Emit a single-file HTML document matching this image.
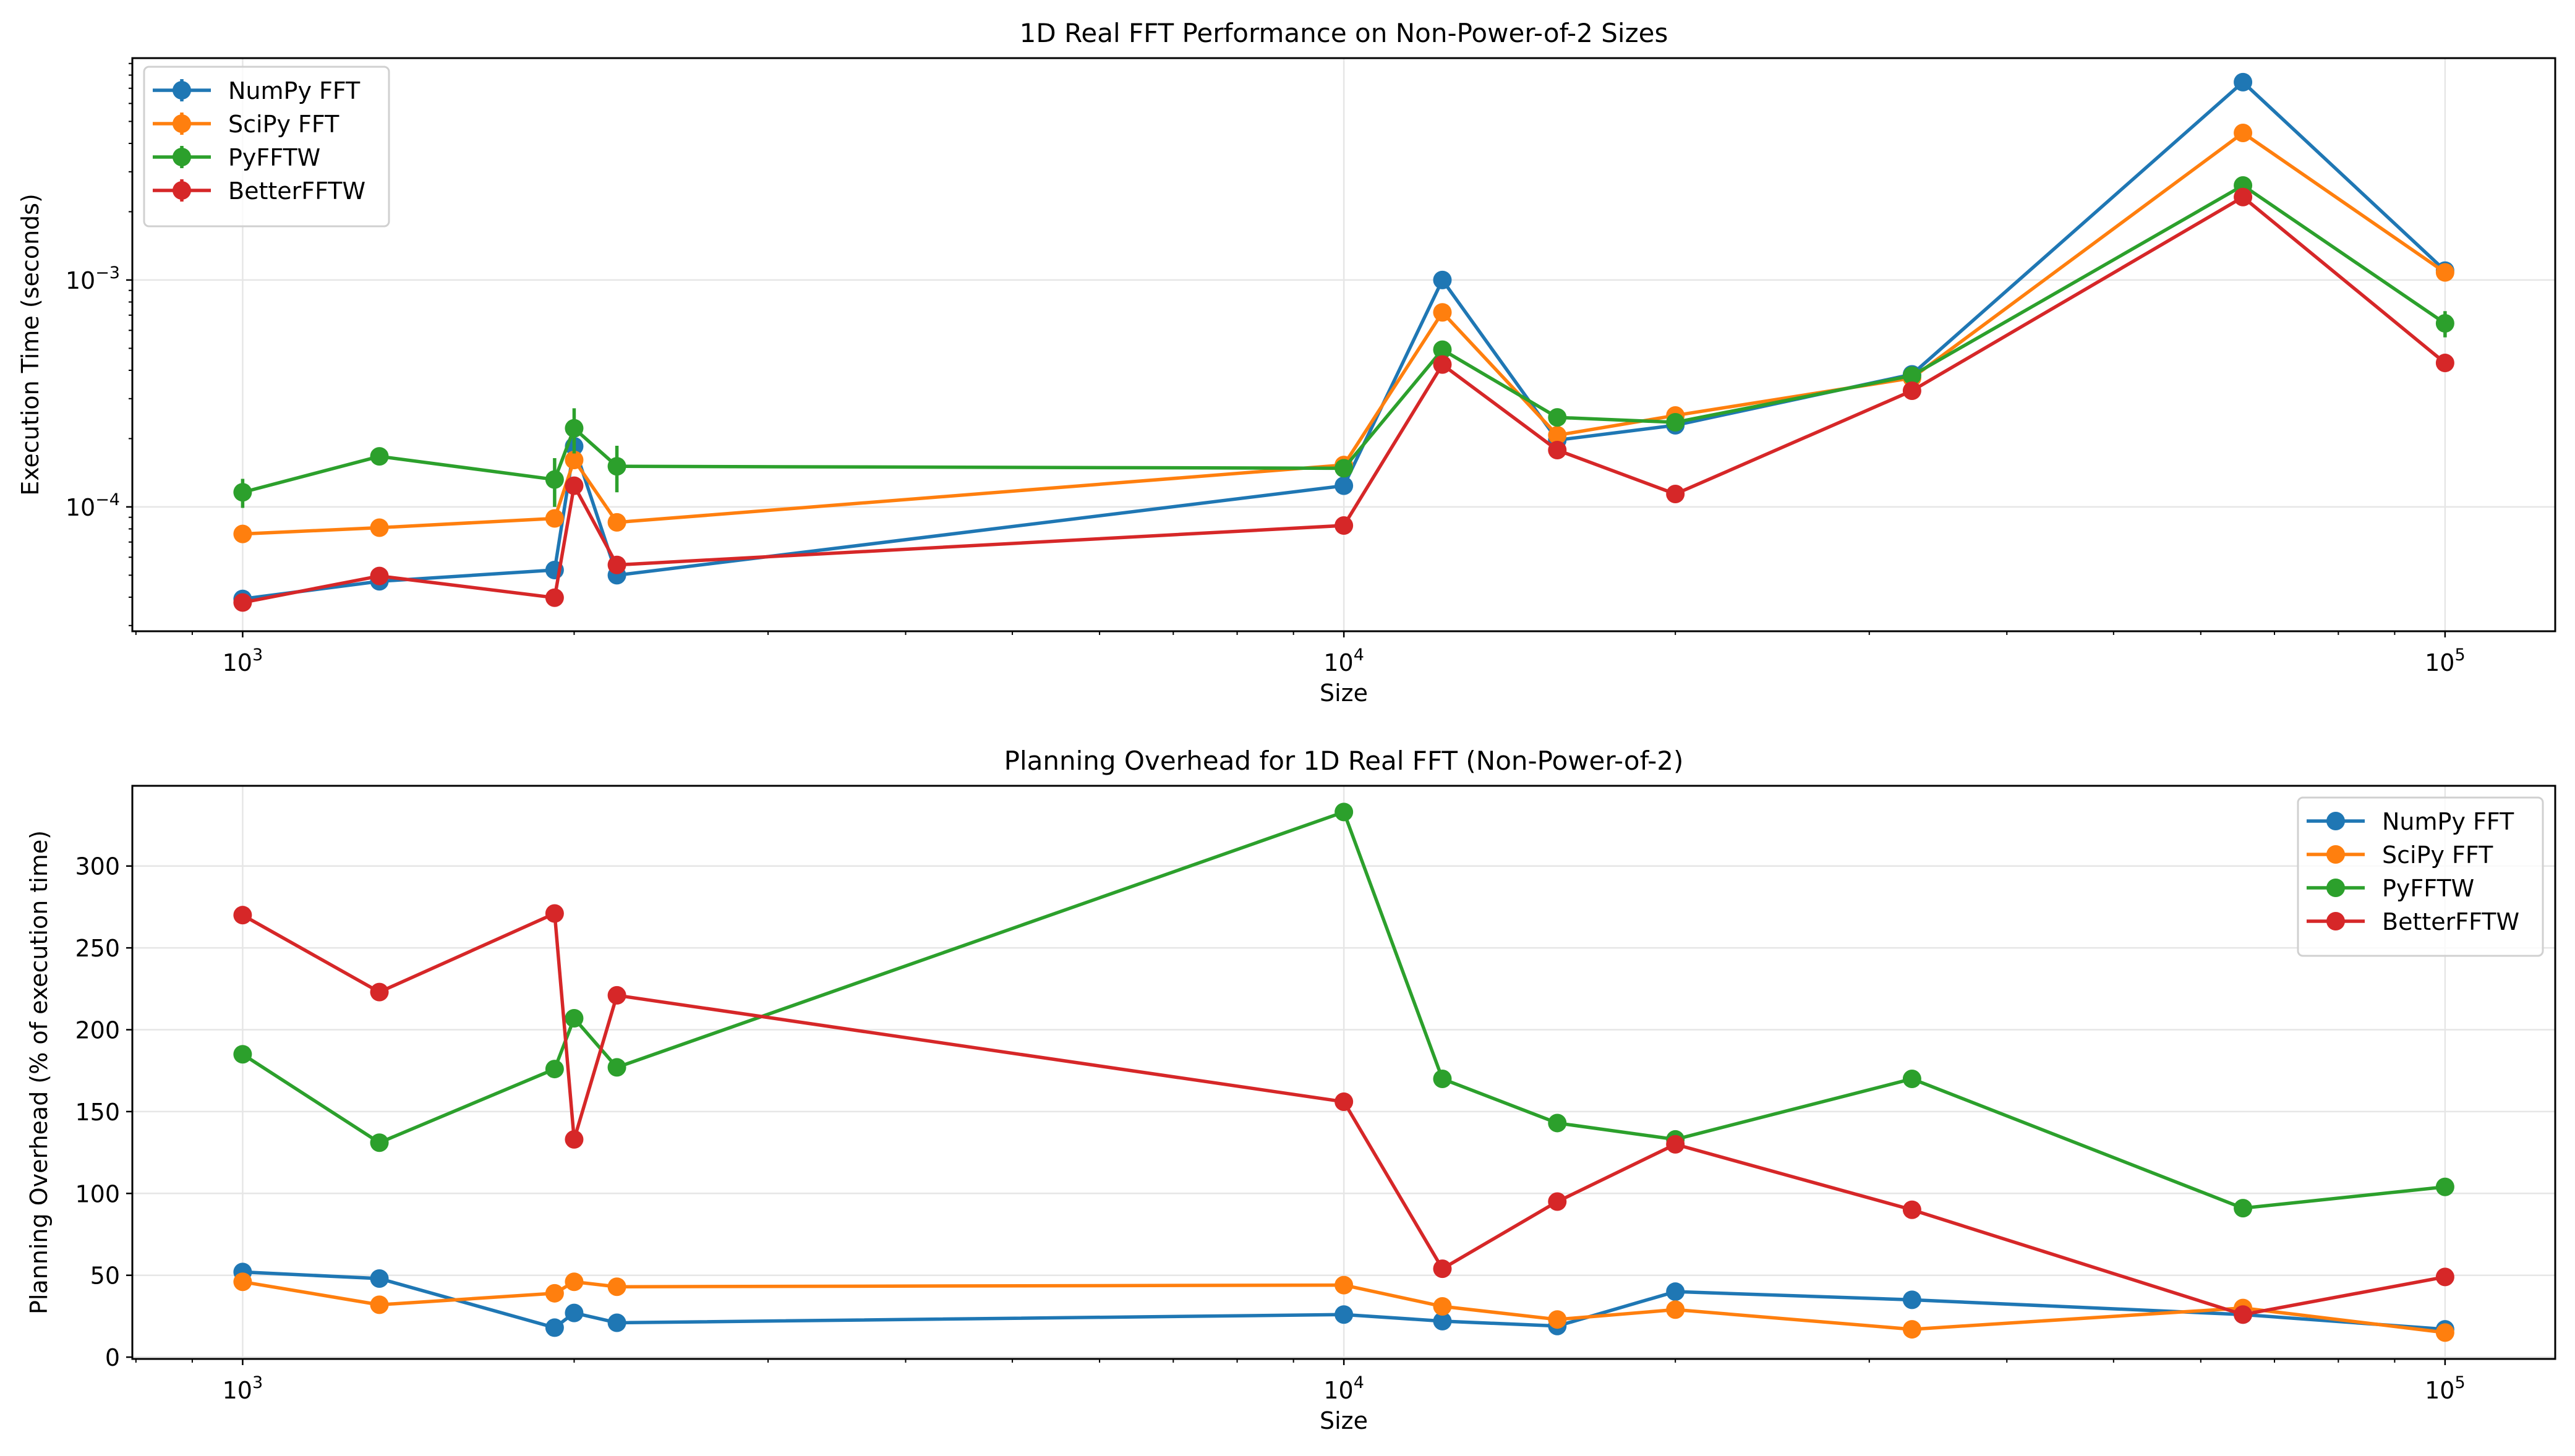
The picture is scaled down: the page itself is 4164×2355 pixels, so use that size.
<!DOCTYPE html>
<html><head><meta charset="utf-8"><style>
html,body{margin:0;padding:0;background:#fff}
svg{display:block;font-family:"DejaVu Sans","Liberation Sans",sans-serif}
</style></head><body>
<svg id="fig" width="4164" height="2355" viewBox="0 0 4164 2355" xmlns="http://www.w3.org/2000/svg"></svg>
<script>
const sizes=[1000,1331,1920,2000,2187,10000,12288,15625,20000,32805,65537,100000];
const seriesNames=["NumPy FFT","SciPy FFT","PyFFTW","BetterFFTW"];
const colors=["#1f77b4","#ff7f0e","#2ca02c","#d62728"];
const timeNumpy=[3.93e-5,4.7e-5,5.27e-5,1.85e-4,5.0e-5,1.24e-4,1.0e-3,1.97e-4,2.29e-4,3.84e-4,7.45e-3,1.1e-3];
const timeScipy=[7.6e-5,8.1e-5,8.9e-5,1.61e-4,8.55e-5,1.53e-4,7.2e-4,2.07e-4,2.53e-4,3.7e-4,4.45e-3,1.08e-3];
const timePyfftw=[1.16e-4,1.67e-4,1.32e-4,2.22e-4,1.51e-4,1.48e-4,4.93e-4,2.48e-4,2.36e-4,3.79e-4,2.61e-3,6.44e-4];
const timeBetter=[3.79e-5,4.96e-5,3.98e-5,1.24e-4,5.55e-5,8.28e-5,4.24e-4,1.78e-4,1.14e-4,3.25e-4,2.32e-3,4.31e-4];
const errNumpy=[0,0,4e-6,0,0,0,0,0,0,0,0,0];
const errScipy=[0,0,0,0,0,0,0,0,0,0,0,0];
const errPyfftw=[1.7e-5,0,3.2e-5,5.0e-5,3.5e-5,0,0,0,0,0,0,8.5e-5];
const errBetter=[0,0,0,0,0,0,0,0,0,0,0,0];
const ovNumpy=[52,48,18,27,21,26,22,19,40,35,26,17];
const ovScipy=[46,32,39,46,43,44,31,23,29,17,30,15];
const ovPyfftw=[185,131,176,207,177,333,170,143,133,170,91,104];
const ovBetter=[270,223,271,133,221,156,54,95,130,90,26,49];
const overheadTicks=[0,50,100,150,200,250,300];
const timeDecades=[-4,-3];
const xDecades=[3,4,5];

const svg=document.getElementById('fig');
const NS="http://www.w3.org/2000/svg";
function mk(tag,attrs,parent){const e=document.createElementNS(NS,tag);for(const k in attrs)e.setAttribute(k,attrs[k]);(parent||svg).appendChild(e);return e;}
const L=214,R=4132;
const xmin=Math.log10(794),xmax=Math.log10(125900);
function X(v){return L+(Math.log10(v)-xmin)/(xmax-xmin)*(R-L);}
const FS=38;

function axesBox(name){
  const g=mk('g',{});return g;
}
function xAxis(g,top,bot){
  for(const d of xDecades){const px=X(Math.pow(10,d));
    mk('line',{x1:px,x2:px,y1:top,y2:bot,stroke:'#e6e6e6','stroke-width':2.5},g);
  }
  for(let d=2;d<=5;d++)for(let m=1;m<10;m++){const v=m*Math.pow(10,d);const px=X(v);if(px<L||px>R)continue;
    const major=m===1;mk('line',{x1:px,x2:px,y1:bot,y2:bot+(major?10:6),stroke:'#000','stroke-width':major?2.5:2},g);
    if(major){const t=mk('text',{x:px,y:bot+64,'font-size':FS,'text-anchor':'middle'},g);t.textContent='10';
      const s=mk('tspan',{dy:-17,'font-size':27},t);s.textContent=String(d);}
  }
  const xl=mk('text',{x:(L+R)/2,y:bot+113,'font-size':FS,'text-anchor':'middle'},g);xl.textContent='Size';
  
}
function drawSeries(g,xs,ys,Yf,color,errs,name){
  const sg=mk('g',{},g);
  if(errs){xs.forEach((x,i)=>{if(errs[i]>0){mk('line',{x1:X(x),x2:X(x),y1:Yf(ys[i]+errs[i]),y2:Yf(Math.max(ys[i]-errs[i],1e-9)),stroke:color,'stroke-width':5.5},sg);}});}
  mk('polyline',{points:xs.map((x,i)=>X(x)+','+Yf(ys[i])).join(' '),fill:'none',stroke:color,'stroke-width':5.5,'stroke-linejoin':'round'},sg);
  xs.forEach((x,i)=>{const c=mk('circle',{cx:X(x),cy:Yf(ys[i]),r:15,fill:color},sg);});
}
function legend(g,x0,y0,w,h,withErr){
  const lg=mk('g',{},g);
  mk('rect',{x:x0,y:y0,width:w,height:h,rx:8,fill:'#fff','fill-opacity':0.8,stroke:'#d0d0d0','stroke-width':3},lg);
  seriesNames.forEach((n,i)=>{const cy=y0+38+i*54;
    const e=mk('g',{},lg);
    mk('line',{x1:x0+14,x2:x0+108,y1:cy,y2:cy,stroke:colors[i],'stroke-width':5.5},e);
    if(withErr)mk('line',{x1:x0+61,x2:x0+61,y1:cy-18,y2:cy+18,stroke:colors[i],'stroke-width':5.5},e);
    mk('circle',{cx:x0+61,cy:cy,r:15,fill:colors[i]},e);
    const t=mk('text',{x:x0+136,y:cy+14,'font-size':FS},e);t.textContent=n;});
}

/* TOP */
(function(){
  const top=94,bot=1021;const ymax=-2.022,ymin=-4.548;
  const Y=v=>top+(ymax-Math.log10(v))/(ymax-ymin)*(bot-top);
  const g=axesBox('execution-time-chart');
  for(const d of timeDecades)mk('line',{x1:L,x2:R,y1:Y(Math.pow(10,d)),y2:Y(Math.pow(10,d)),stroke:'#e6e6e6','stroke-width':2.5},g);
  xAxis(g,top,bot);
  for(let d=-5;d<=-2;d++)for(let m=1;m<10;m++){const v=m*Math.pow(10,d);const py=Y(v);if(py<top||py>bot)continue;
    const major=m===1;mk('line',{x1:L,x2:L-(major?10:6),y1:py,y2:py,stroke:'#000','stroke-width':major?2.5:2},g);
    if(major){const t=mk('text',{x:L-20,y:py+14,'font-size':FS,'text-anchor':'end'},g);t.textContent='10';
      const s=mk('tspan',{dy:-17,'font-size':27},t);s.textContent='\u2212'+(-d);}}
  const yl=mk('text',{x:62,y:(top+bot)/2,'font-size':FS,'text-anchor':'middle',transform:`rotate(-90 62 ${(top+bot)/2})`},g);yl.textContent='Execution Time (seconds)';
  
  const tt=mk('text',{x:(L+R)/2,y:68,'font-size':42,'text-anchor':'middle'},g);tt.textContent='1D Real FFT Performance on Non-Power-of-2 Sizes';
  
  const d=[timeNumpy,timeScipy,timePyfftw,timeBetter],e=[errNumpy,errScipy,errPyfftw,errBetter];
  d.forEach((ys,i)=>drawSeries(g,sizes,ys,Y,colors[i],e[i],'series-'+i));
  mk('rect',{x:L,y:top,width:R-L,height:bot-top,fill:'none',stroke:'#000','stroke-width':3},g);
  legend(g,233,108,396,258,true);
})();
/* BOTTOM */
(function(){
  const top=1271,bot=2198;const ymax=349,ymin=-1.1;
  const Y=v=>top+(ymax-v)/(ymax-ymin)*(bot-top);
  const g=axesBox('planning-overhead-chart');
  for(const v of overheadTicks){const py=Y(v);mk('line',{x1:L,x2:R,y1:py,y2:py,stroke:'#e6e6e6','stroke-width':2.5},g);
    mk('line',{x1:L,x2:L-10,y1:py,y2:py,stroke:'#000','stroke-width':2.5},g);
    const t=mk('text',{x:L-20,y:py+14,'font-size':FS,'text-anchor':'end'},g);t.textContent=String(v);}
  xAxis(g,top,bot);
  const yl=mk('text',{x:76,y:(top+bot)/2,'font-size':FS,'text-anchor':'middle',transform:`rotate(-90 76 ${(top+bot)/2})`},g);yl.textContent='Planning Overhead (% of execution time)';
  
  const tt=mk('text',{x:(L+R)/2,y:1245,'font-size':42,'text-anchor':'middle'},g);tt.textContent='Planning Overhead for 1D Real FFT (Non-Power-of-2)';
  
  [ovNumpy,ovScipy,ovPyfftw,ovBetter].forEach((ys,i)=>drawSeries(g,sizes,ys,Y,colors[i],null,'overhead-series-'+i));
  mk('rect',{x:L,y:top,width:R-L,height:bot-top,fill:'none',stroke:'#000','stroke-width':3},g);
  legend(g,3716,1290,396,256,false);
})();
</script>
</body></html>
